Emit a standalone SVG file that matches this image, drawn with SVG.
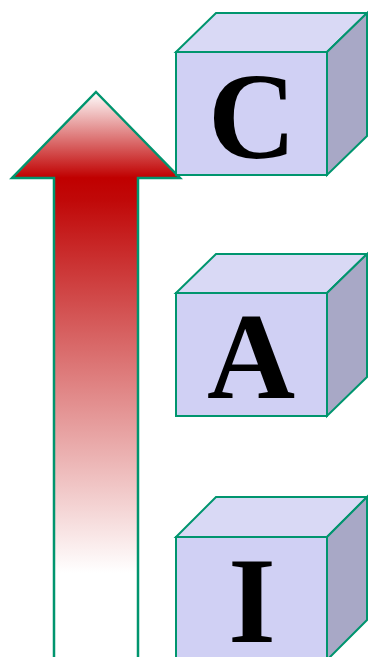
<svg xmlns="http://www.w3.org/2000/svg" width="368" height="657" viewBox="0 0 368 657">
<style>
.front{fill:#d0d0f4;stroke:#00956e;stroke-width:2;stroke-linejoin:miter}
.top{fill:#d9d9f5;stroke:#00956e;stroke-width:2}
.side{fill:#a8a8c6;stroke:#00956e;stroke-width:2}
.lbl{font-family:"Liberation Serif","Times New Roman",serif;font-weight:bold;font-size:122px;text-anchor:middle;fill:#000}
</style>
<defs>
<linearGradient id="g" gradientUnits="userSpaceOnUse" x1="0" y1="92" x2="0" y2="657">
<stop offset="0" stop-color="#ffffff"/>
<stop offset="0.152" stop-color="#c00000"/>
<stop offset="0.19" stop-color="#c00808"/>
<stop offset="0.851" stop-color="#ffffff"/>
<stop offset="1" stop-color="#ffffff"/>
</linearGradient>
</defs>
<g id="arrow">
<path d="M96,92 L180,178 L138,178 L138,660 L54,660 L54,178 L12,178 Z" fill="url(#g)" stroke="#00956e" stroke-width="2.5" stroke-linejoin="miter"/>
</g>
<g id="cubeC">
<path class="top" d="M176,52 L216,13 L367,13 L327,52 Z"/>
<path class="side" d="M327,52 L367,13 L367,136 L327,175 Z"/>
<rect class="front" x="176" y="52" width="151" height="123"/>
<text class="lbl" x="252" y="158">C</text>
</g>
<g id="cubeA">
<path class="top" d="M176,293 L216,254 L367,254 L327,293 Z"/>
<path class="side" d="M327,293 L367,254 L367,377 L327,416 Z"/>
<rect class="front" x="176" y="293" width="151" height="123"/>
<text class="lbl" x="251" y="398">A</text>
</g>
<g id="cubeI">
<path class="top" d="M176,537 L216,497 L367,497 L327,537 Z"/>
<path class="side" d="M327,537 L367,497 L367,620 L327,660 Z"/>
<rect class="front" x="176" y="537" width="151" height="125"/>
<text class="lbl" x="252" y="642">I</text>
</g>
<g id="connectors"></g>
</svg>
